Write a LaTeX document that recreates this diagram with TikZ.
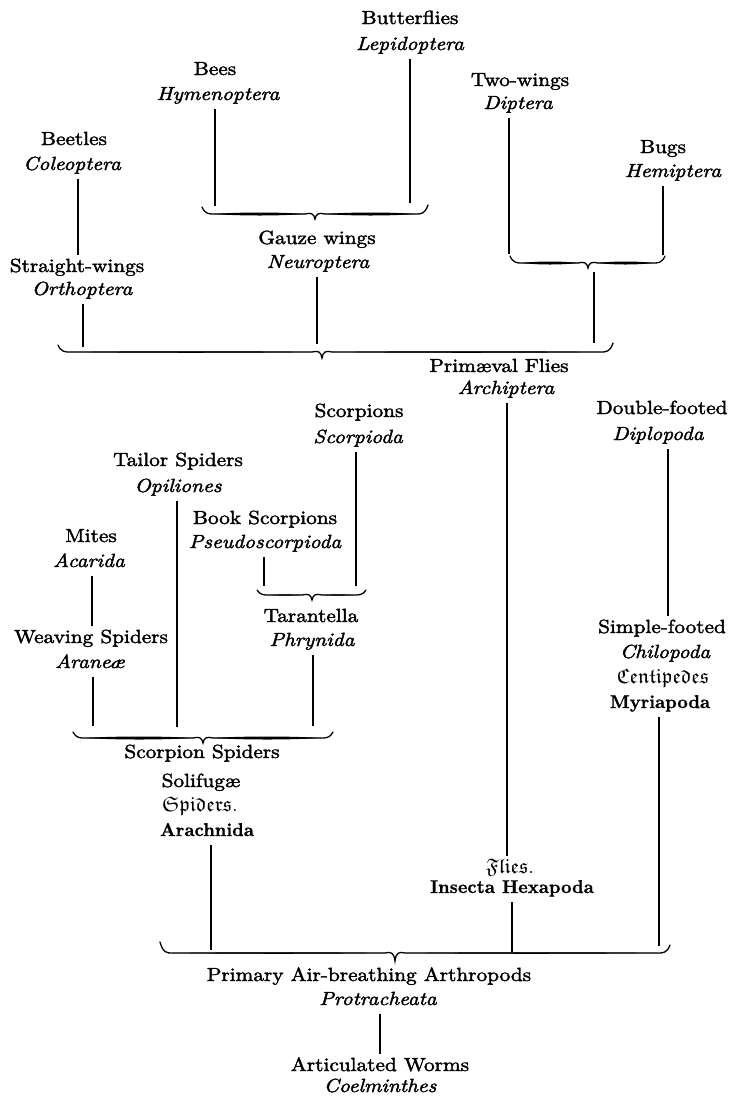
\documentclass[tikz,border=0pt]{standalone}
\usepackage{amsfonts}
\usepackage{fontspec}
\setmainfont{lmroman10}[Extension=.otf, UprightFont=*-regular, ItalicFont=*-italic, BoldFont=*-bold, BoldItalicFont=*-bolditalic, FakeStretch=1.12, FakeBold=2]
\newfontfamily\heavyfam{lmroman10}[Extension=.otf, UprightFont=*-bold, FakeStretch=0.98, FakeBold=1]
\newcommand\hbr[8]{%
  \pgfmathsetmacro\brA{#1+12}\pgfmathsetmacro\brB{#5-10}%
  \pgfmathsetmacro\brC{#5+10}\pgfmathsetmacro\brD{#3-12}%
  \draw[bracestroke] (#1,#2) .. controls (#1+3,#7) and (#1+7,#7) .. (\brA,#7) -- (\brB,#7)
     .. controls (#5-4,#7-1.5) and (#5-1,#7-0.5) .. (#5,#6)
     .. controls (#5+1,#7-0.5) and (#5+4,#7-1.5) .. (\brC,#7) -- (\brD,#7)
     .. controls (#3-7,#7) and (#3-3,#7) .. (#3,#4);
  \fill (\brA,#7) .. controls ({\brA+0.3*(\brB-\brA)},#7-#8) and ({\brB-0.3*(\brB-\brA)},#7-#8) .. (\brB,#7)
     .. controls ({\brB-0.3*(\brB-\brA)},#7+#8) and ({\brA+0.3*(\brB-\brA)},#7+#8) .. cycle;
  \fill (\brC,#7) .. controls ({\brC+0.3*(\brD-\brC)},#7-#8) and ({\brD-0.3*(\brD-\brC)},#7-#8) .. (\brD,#7)
     .. controls ({\brD-0.3*(\brD-\brC)},#7+#8) and ({\brC+0.3*(\brD-\brC)},#7+#8) .. cycle;
}
\begin{document}
\begin{tikzpicture}[x=1pt,y=-1pt,
  lab/.style={inner xsep=1pt, inner ysep=5pt, text height=12pt, text depth=4pt, anchor=base, font=\fontsize{19}{22}\selectfont},
  lat/.style={lab, font=\fontsize{19}{22}\selectfont\itshape},
  bld/.style={lab, font=\fontsize{18.5}{22}\heavyfam},
  frk/.style={lab, font=\fontsize{21}{24}\selectfont},
  conn/.style={line width=1.2pt},
  bracestroke/.style={line width=1.3pt, line cap=round}]
\useasboundingbox[fill=white] (0,0) rectangle (730,1096);

% ---- text nodes ----
\node[lab] (butt) at (410,24) {Butterflies};
\node[lat] (lepi) at (410,50) {Lepidoptera};
\node[lab] (bees) at (215,75) {Bees};
\node[lat] (hyme) at (218,100) {Hymenoptera};
\node[lab] (twow) at (520,86) {Two-wings};
\node[lat] (dipt) at (518,109) {Diptera};
\node[lab] (beet) at (74,145) {Beetles};
\node[lat] (cole) at (72,170) {Coleoptera};
\node[lab] (bugs) at (663,153) {Bugs};
\node[lat] (hemi) at (673,177) {Hemiptera};
\node[lab] (gauz) at (317,244) {Gauze wings};
\node[lat] (neur) at (318,268) {Neuroptera};
\node[lab] (stra) at (77,272) {Straight-wings};
\node[lat] (orth) at (82,295) {Orthoptera};
\node[lab] (prim) at (499,372) {Primæval Flies};
\node[lat] (arch) at (506,394) {Archiptera};
\node[lab] (scor) at (359,417) {Scorpions};
\node[lat] (scod) at (358,443) {Scorpioda};
\node[lab] (dblf) at (662,414) {Double-footed};
\node[lat] (dipl) at (658,440) {Diplopoda};
\node[lab] (tail) at (178,466) {Tailor Spiders};
\node[lat] (opil) at (178,492) {Opiliones};
\node[lab] (book) at (265,524) {Book Scorpions};
\node[lat] (pseu) at (265,548) {Pseudoscorpioda};
\node[lab] (mite) at (91,542) {Mites};
\node[lat] (acar) at (89,567) {Acarida};
\node[lab] (tara) at (311,622) {Tarantella};
\node[lat] (phry) at (312,646) {Phrynida};
\node[lab] (weav) at (91,643) {Weaving Spiders};
\node[lat] (aran) at (90,668) {Araneæ};
\node[lab] (simp) at (662,633) {Simple-footed};
\node[lat] (chil) at (665,658) {Chilopoda};
\node[frk] (cent) at (663,683) {$\mathfrak{Centipedes}$};
\node[bld] (myri) at (660,708) {Myriapoda};
\node[lab] (scsp) at (202,758) {Scorpion Spiders};
\node[lab] (soli) at (201,787) {Solifugæ};
\node[frk] (spid) at (200,811) {$\mathfrak{Spiders.}$};
\node[bld] (arac) at (207,836) {Arachnida};
\node[frk] (flie) at (510,873) {$\mathfrak{Flies.}$};
\node[bld] (inse) at (512,893) {Insecta Hexapoda};
\node[lab] (prab) at (369,981) {Primary Air-breathing Arthropods};
\node[lat] (prot) at (378,1005) {Protracheata};
\node[lab] (artw) at (380,1071) {Articulated Worms};
\node[lat] (coel) at (380,1092) {Coelminthes};

% ---- braces ----
\hbr{202}{207}{428}{205}{315}{219}{214}{2.0}
\hbr{510}{256}{665}{256}{588}{268}{263}{2.0}
\hbr{58}{345}{613}{343}{322}{358}{352}{1.0}
\hbr{257}{590}{366}{590}{312}{600}{595}{0.8}
\hbr{73}{732}{333}{732}{203}{743}{738}{2.0}
\hbr{160}{942}{670}{945}{395}{961}{953}{1.0}

% ---- connector end points ----
\coordinate (gzL) at (215,206);
\coordinate (gzR) at (410,203);
\coordinate (bgL) at (509,254);
\coordinate (bgR) at (663,255);
\coordinate (xbe) at (78,0);
\coordinate (bbL) at (83,347);
\coordinate (bbM) at (317,344);
\coordinate (bgS) at (594,272);
\coordinate (bbR) at (594,343);
\coordinate (xar) at (507,0);
\coordinate (tbR) at (356,586);
\coordinate (tbL) at (264,586);
\coordinate (ssM) at (177,727);
\coordinate (xmi) at (92,0);
\coordinate (ssL) at (93,726);
\coordinate (ssR) at (313,726);
\coordinate (xdi) at (668,0);
\coordinate (abR) at (659,946);
\coordinate (abL) at (211,950);
\coordinate (abM) at (512,952);
\coordinate (xpr) at (380,0);

% ---- connectors ----
\draw[conn] (hyme.south -| gzL) -- (gzL);
\draw[conn] (lepi.south -| gzR) -- (gzR);
\draw[conn] (dipt.south -| bgL) -- (bgL);
\draw[conn] (hemi.south -| bgR) -- (bgR);
\draw[conn] (cole.south -| xbe) -- (stra.north -| xbe);
\draw[conn] (orth.south -| bbL) -- (bbL);
\draw[conn] (neur.south -| bbM) -- (bbM);
\draw[conn] (bgS) -- (bbR);
\draw[conn] (arch.south -| xar) -- (flie.north -| xar);
\draw[conn] (scod.south -| tbR) -- (tbR);
\draw[conn] (pseu.south -| tbL) -- (tbL);
\draw[conn] (opil.south -| ssM) -- (ssM);
\draw[conn] (acar.south -| xmi) -- (weav.north -| xmi);
\draw[conn] (aran.south -| ssL) -- (ssL);
\draw[conn] (phry.south -| ssR) -- (ssR);
\draw[conn] (dipl.south -| xdi) -- (simp.north -| xdi);
\draw[conn] (myri.south -| abR) -- (abR);
\draw[conn] (arac.south -| abL) -- (abL);
\draw[conn] (inse.south -| abM) -- (abM);
\draw[conn] (prot.south -| xpr) -- (artw.north -| xpr);
\end{tikzpicture}
\end{document}
